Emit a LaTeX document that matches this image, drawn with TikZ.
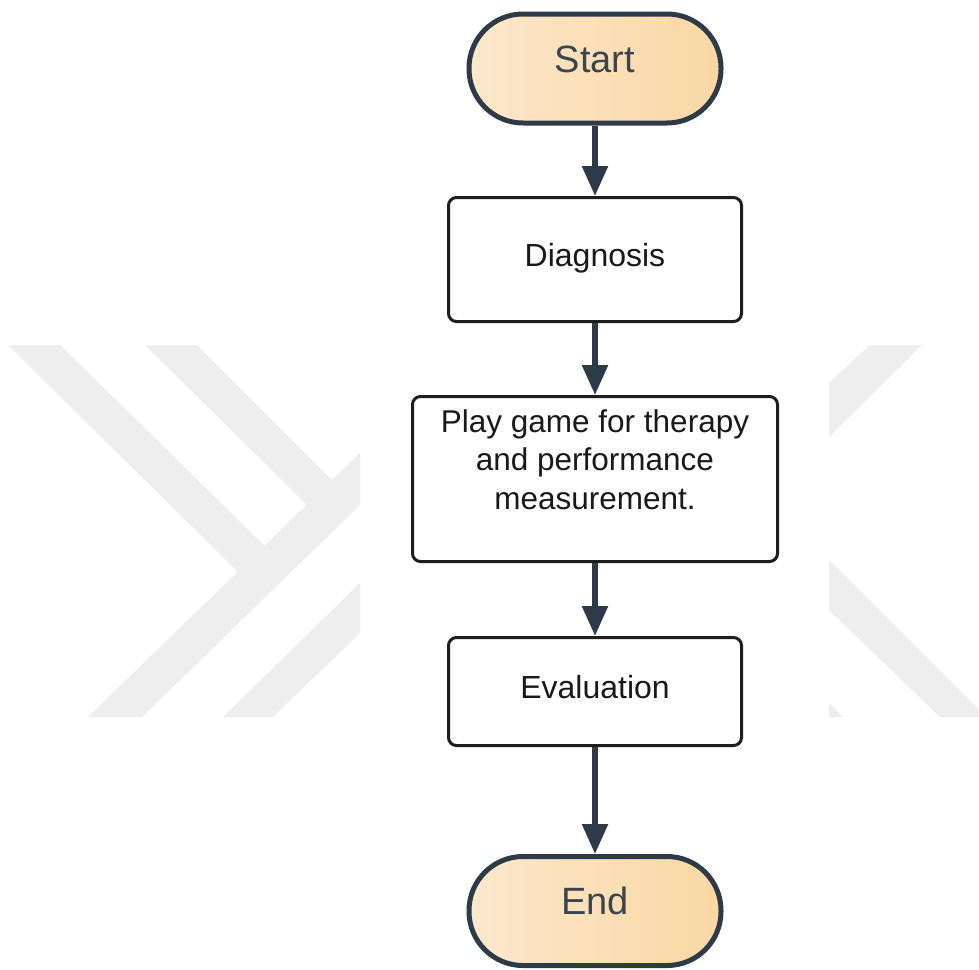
\documentclass[tikz,border=0pt]{standalone}
\usepackage{fontspec}
\setmainfont{Liberation Sans}
\usetikzlibrary{arrows.meta,shadows}
\definecolor{wm}{RGB}{238,238,238}
\definecolor{slate}{RGB}{45,58,72}
\definecolor{peachL}{RGB}{252,232,204}
\definecolor{peachR}{RGB}{250,215,164}
\definecolor{termtext}{RGB}{60,68,78}
\definecolor{boxline}{RGB}{30,30,30}
\definecolor{boxtext}{RGB}{25,25,25}
\begin{document}
\begin{tikzpicture}[x=1pt,y=-1pt,
  terminal/.style={draw=slate, line width=5pt, rounded corners=54pt,
    minimum width=252pt, minimum height=109pt, inner sep=0pt,
    shading=axis, left color=peachL, right color=peachR,
    text=termtext, font=\fontsize{38}{45}\selectfont,
    text height=27pt, text depth=20pt,
    general shadow={shadow xshift=1pt, shadow yshift=-2pt, fill=black, opacity=0.1}},
  process/.style={draw=boxline, line width=3pt, rounded corners=8pt, fill=white,
    inner sep=0pt, text=boxtext, font=\fontsize{32}{38}\selectfont,
    text height=23pt, text depth=9pt},
  flow/.style={draw=slate, line width=5.5pt, -{Triangle[width=25pt,length=30pt]}},
  wmark/.style={fill=wm, draw=none}]
\useasboundingbox (0,0) rectangle (979,969);
\fill[white] (0,0) rectangle (979,969);
% watermark
\fill[wmark] (88,717) -- (142,717) -- (360,505) -- (360,453) -- cycle;
\fill[wmark] (8,345) -- (60,345) -- (272,553) -- (250,584) -- cycle;
\fill[wmark] (145,345) -- (197,345) -- (349,497) -- (322,520) -- cycle;
\fill[wmark] (223,717) -- (273,717) -- (360,633) -- (360,583) -- cycle;
\fill[wmark] (870,345) -- (922,345) -- (829,437) -- (829,383) -- cycle;
\fill[wmark] (829,560) -- (979,710) -- (979,717) -- (940,717) -- (829,610) -- cycle;
\fill[wmark] (829,703) -- (843,717) -- (829,717) -- cycle;
% nodes
\node[terminal] (start) at (595,68.5) {Start};
\node[process, minimum width=293pt, minimum height=124pt] (diag) at (595,259.5) {Diagnosis};
\node[process, minimum width=365pt, minimum height=165pt] (play) at (595,479) {};
\node[font=\fontsize{31.5}{38.5}\selectfont, text=boxtext, align=center, anchor=north, inner sep=0pt] (playtext) at (595,409) {Play game for therapy\\and performance\\measurement.};
\node[process, minimum width=293pt, minimum height=108pt] (eval) at (595,691.5) {Evaluation};
\node[terminal] (end) at (595,911) {End};
% connectors
\draw[flow] (start) -- (diag);
\draw[flow] (diag) -- (play);
\draw[flow] (play) -- (eval);
\draw[flow] (eval) -- (end);
\end{tikzpicture}
\end{document}
